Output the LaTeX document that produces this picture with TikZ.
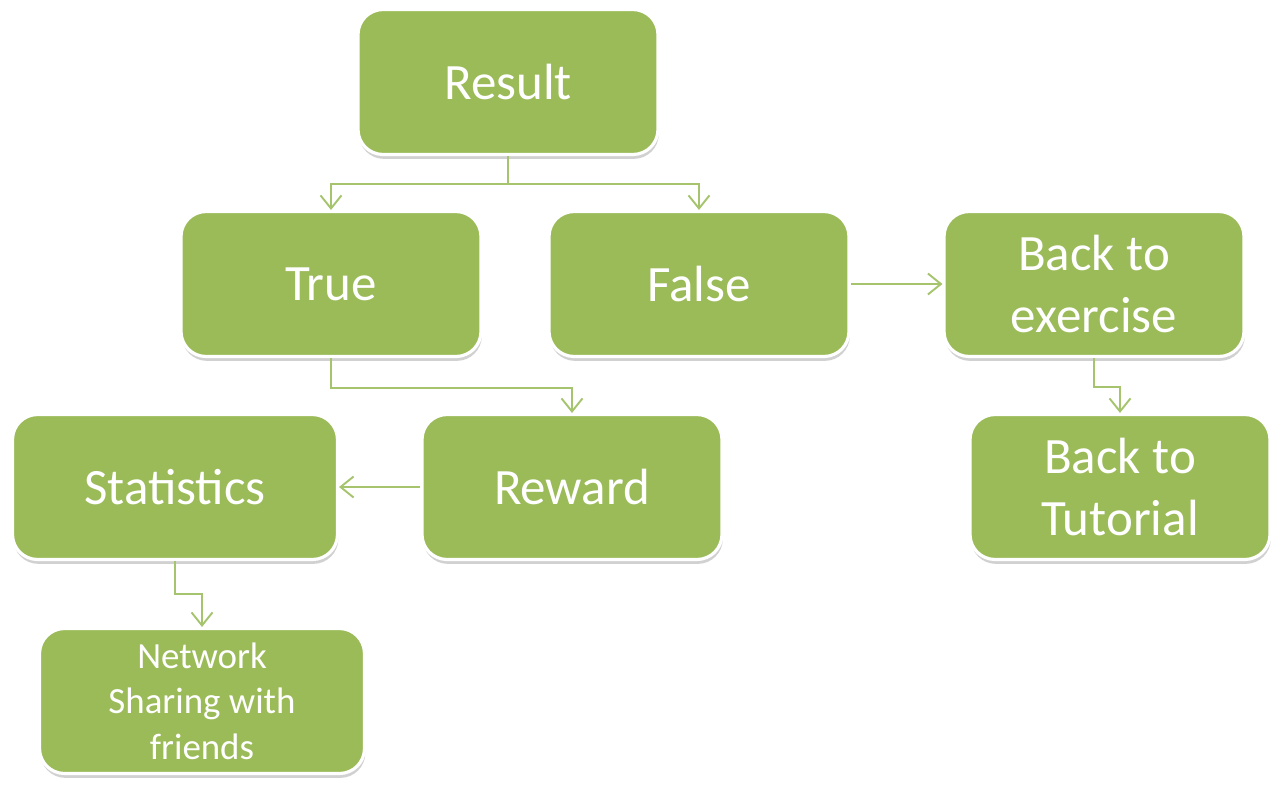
\documentclass[tikz,border=0pt]{standalone}
\usepackage{fontspec}
\setmainfont{Carlito}
\usetikzlibrary{arrows.meta, shadows}

\definecolor{boxgreen}{RGB}{155,187,89}
\definecolor{linkgreen}{RGB}{166,196,110}

\begin{document}
\begin{tikzpicture}[x=0.02cm, y=-0.02cm,
    step node/.style={rectangle, rounded corners=0.5cm, fill=boxgreen, draw=white,
        line width=1.8pt, text=white, align=center, inner sep=0pt,
        minimum width=6cm, minimum height=2.9cm,
        font=\fontsize{29}{35.5}\selectfont,
        drop shadow={shadow xshift=0.5pt, shadow yshift=-2.5pt, opacity=0.3, fill=black!60}},
    link/.style={draw=linkgreen, line width=1.1pt, -{Straight Barb[length=2.6mm, width=4.2mm]}}]
    \useasboundingbox (0,0) rectangle (1276,785);
    % top level
    \node[step node] (res) at (508,82) {Result};
    \node[step node] (tru) at (331,284) {True};
    \node[step node] (fal) at (699,284) {False};
    \node[step node] (bex) at (1094,284) {Back to\\exercise};
    % bottom levels
    \node[step node, minimum width=6.5cm] (sta) at (175,487) {Statistics};
    \node[step node] (rew) at (572,487) {Reward};
    \node[step node] (tut) at (1120,487) {Back to\\Tutorial};
    \node[step node, minimum width=6.5cm, font=\fontsize{21}{26}\selectfont] (net) at (202,701) {Network\\Sharing with\\friends};
    % connectors
    \draw[link] (res.south) -- ++(0,28) -| (tru.north);
    \draw[link] (res.south) -- ++(0,28) -| (fal.north);
    \draw[link] (tru.south) -- ++(0,30) -| (rew.north);
    \draw[link] (rew.west) -- (sta.east);
    \draw[link] (fal.east) -- (bex.west);
    \draw[link] (bex.south) -- ++(0,29) -| (tut.north);
    \draw[link] (sta.south) -- ++(0,33) -| (net.north);
\end{tikzpicture}
\end{document}
